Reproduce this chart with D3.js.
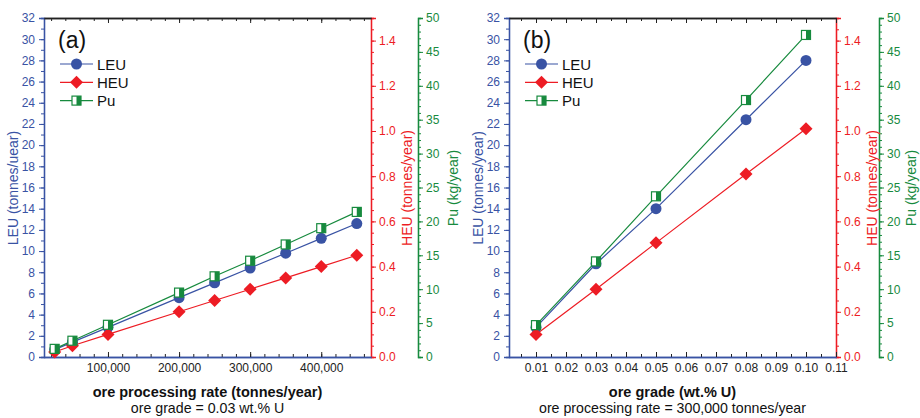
<!DOCTYPE html>
<html><head><meta charset="utf-8">
<script src="https://cdn.jsdelivr.net/npm/d3@7/dist/d3.min.js"></script>
<style>body{margin:0;background:#fff} svg{font-family:"Liberation Sans",Arial,sans-serif}</style>
</head><body><svg id="c" width="920" height="418"></svg>
<script>
// Panel (a): ore processing rate
const rateX   = [25000, 50000, 100000, 200000, 250000, 300000, 350000, 400000, 450000];
const rateLEU = [0.7, 1.4, 2.8, 5.6, 7.0, 8.4, 9.8, 11.2, 12.6];
const rateHEU = [0.022, 0.05, 0.1, 0.2, 0.25, 0.3, 0.35, 0.4, 0.45];
const ratePu  = [1.2, 2.4, 4.75, 9.5, 11.9, 14.2, 16.6, 19.0, 21.4];
const rateTicks = [100000, 200000, 300000, 400000];
// Panel (b): ore grade
const gradeX   = [0.01, 0.03, 0.05, 0.08, 0.10];
const gradeLEU = [2.8, 8.8, 14.0, 22.4, 28.0];
const gradeHEU = [0.1, 0.3, 0.505, 0.81, 1.01];
const gradePu  = [4.7, 14.1, 23.7, 37.9, 47.5];
const gradeTicks = [0.01,0.02,0.03,0.04,0.05,0.06,0.07,0.08,0.09,0.10,0.11];
const leuTicks = d3.range(0, 33, 2);
const heuTicks = [0,0.2,0.4,0.6,0.8,1.0,1.2,1.4];
const puTicks = d3.range(0, 51, 5);
const seriesNames = ["LEU", "HEU", "Pu"];

const BLUE = "#3953a4", RED = "#ed1c24", GREEN = "#178a3e";
const svg = d3.select("#c");

function panel(cfg) {
  const g = svg.append("g");
  const top = 18, bot = 357;
  const x = d3.scaleLinear().domain(cfg.xdom).range([cfg.left, cfg.right]);
  const yL = d3.scaleLinear().domain([0, 32]).range([bot, top]);
  const yH = d3.scaleLinear().domain([0, 1.5]).range([bot, top]);
  const yP = d3.scaleLinear().domain([0, 50]).range([bot, top]);

  function styleAxis(sel, color, textColor) {
    sel.selectAll("path").attr("stroke", color).attr("stroke-width", 1.3);
    sel.selectAll("line").attr("stroke", color).attr("stroke-width", 1);
    sel.selectAll("text").attr("fill", textColor || color).attr("font-size", 12);
    sel.attr("font-family", null);
  }
  // left LEU axis
  const la = g.append("g").attr("transform", `translate(${cfg.left},0)`)
    .call(d3.axisLeft(yL).tickValues(d3.range(0,33,1)).tickSize(3).tickFormat(""));
  styleAxis(la, BLUE);
  const la2 = g.append("g").attr("transform", `translate(${cfg.left},0)`)
    .call(d3.axisLeft(yL).tickValues(leuTicks).tickSize(5).tickPadding(4).tickFormat(d3.format("d")));
  styleAxis(la2, BLUE);
  // right HEU axis
  const ra = g.append("g").attr("transform", `translate(${cfg.right},0)`)
    .call(d3.axisRight(yH).tickValues(d3.range(0, 1.51, 0.05)).tickSize(3).tickFormat(""));
  styleAxis(ra, RED);
  const ra2 = g.append("g").attr("transform", `translate(${cfg.right},0)`)
    .call(d3.axisRight(yH).tickValues(heuTicks).tickSize(5).tickPadding(3).tickFormat(d3.format(".1f")));
  styleAxis(ra2, RED);
  // Pu axis
  const pa = g.append("g").attr("transform", `translate(${cfg.pu},0)`)
    .call(d3.axisRight(yP).tickValues(d3.range(0, 51, 1)).tickSize(3).tickFormat(""));
  styleAxis(pa, GREEN);
  const pa2 = g.append("g").attr("transform", `translate(${cfg.pu},0)`)
    .call(d3.axisRight(yP).tickValues(puTicks).tickSize(5).tickPadding(3).tickFormat(d3.format("d")));
  styleAxis(pa2, GREEN);
  // bottom axis (ticks inward)
  const ba = g.append("g").attr("transform", `translate(0,${bot})`)
    .call(d3.axisBottom(x).tickValues(cfg.minor).tickSizeInner(-3).tickSizeOuter(0).tickFormat(""));
  styleAxis(ba, "#222");
  const ba2 = g.append("g").attr("transform", `translate(0,${bot})`)
    .call(d3.axisBottom(x).tickValues(cfg.major).tickSizeInner(-5).tickSizeOuter(0).tickPadding(6).tickFormat(cfg.fmt));
  styleAxis(ba2, "#222", "#222");
  ba.select("path").attr("stroke", BLUE); ba2.select("path").attr("stroke", BLUE);
  // top axis (ticks inward)
  const ta = g.append("g").attr("transform", `translate(0,${top})`)
    .call(d3.axisTop(x).tickValues(cfg.minor).tickSizeInner(-3).tickSizeOuter(0).tickFormat(""));
  styleAxis(ta, "#222");
  const ta2 = g.append("g").attr("transform", `translate(0,${top})`)
    .call(d3.axisTop(x).tickValues(cfg.major).tickSizeInner(-5).tickSizeOuter(0).tickFormat(""));
  styleAxis(ta2, "#222");

  // series
  const series = [
    {name: "LEU", y: yL, v: cfg.leu, c: BLUE},
    {name: "HEU", y: yH, v: cfg.heu, c: RED},
    {name: "Pu",  y: yP, v: cfg.pu_v, c: GREEN}
  ];
  series.forEach(s => {
    const pts = cfg.xs.map((xv, i) => [x(xv), s.y(s.v[i])]);
    g.append("path").attr("d", d3.line()(pts)).attr("fill", "none")
      .attr("stroke", s.c).attr("stroke-width", 1.2);
  });
  series.forEach(s => {
    cfg.xs.forEach((xv, i) => marker(g, s.name, x(xv), s.y(s.v[i])));
  });

  // legend
  g.append("text").attr("x", cfg.left + 14).attr("y", 48).attr("font-size", 23)
    .attr("fill", "#111").text(cfg.tag);
  seriesNames.forEach((n, i) => {
    const yy = 64 + i * 18.3, x0 = cfg.left + 16;
    const c = [BLUE, RED, GREEN][i];
    g.append("line").attr("x1", x0).attr("x2", x0 + 33).attr("y1", yy).attr("y2", yy)
      .attr("stroke", c).attr("stroke-width", 1.2);
    marker(g, n, x0 + 16.5, yy);
    g.append("text").attr("x", x0 + 37).attr("y", yy + 5.5).attr("font-size", 15)
      .attr("fill", "#111").text(n);
  });

  // axis titles
  const midY = 188;
  g.append("text").attr("transform", `translate(${cfg.left - 26},${midY}) rotate(-90)`)
    .attr("text-anchor", "middle").attr("font-size", 14).attr("fill", BLUE).text(cfg.leuTitle);
  g.append("text").attr("transform", `translate(${cfg.right + 41},${midY}) rotate(-90)`)
    .attr("text-anchor", "middle").attr("font-size", 14).attr("fill", RED).text("HEU (tonnes/year)");
  g.append("text").attr("transform", `translate(${cfg.pu + cfg.puOff},${midY}) rotate(-90)`)
    .attr("text-anchor", "middle").attr("font-size", 14).attr("fill", GREEN).text("Pu (kg/year)");
  const cx = (cfg.left + cfg.right) / 2;
  g.append("text").attr("x", cx).attr("y", 397).attr("text-anchor", "middle")
    .attr("font-size", 14.5).attr("font-weight", "bold").attr("fill", "#111").text(cfg.xTitle);
  g.append("text").attr("x", cx).attr("y", 413).attr("text-anchor", "middle")
    .attr("font-size", 14.2).attr("fill", "#111").text(cfg.sub);
}

function marker(g, name, px, py) {
  if (name === "LEU") {
    g.append("circle").attr("cx", px).attr("cy", py).attr("r", 5.5).attr("fill", BLUE);
  } else if (name === "HEU") {
    const s = 6.5;
    g.append("path").attr("d", `M${px},${py - s}L${px + s},${py}L${px},${py + s}L${px - s},${py}Z`)
      .attr("fill", RED);
  } else {
    const s = 4.5;
    g.append("rect").attr("x", px - s).attr("y", py - s).attr("width", 2 * s).attr("height", 2 * s)
      .attr("fill", "#fff").attr("stroke", GREEN).attr("stroke-width", 1.2);
    g.append("rect").attr("x", px).attr("y", py - s).attr("width", s).attr("height", 2 * s)
      .attr("fill", GREEN);
  }
}

panel({
  left: 44, right: 371, pu: 418, puOff: 40, xdom: [10000, 470000],
  xs: rateX, leu: rateLEU, heu: rateHEU, pu_v: ratePu,
  major: rateTicks, minor: d3.range(20000, 470001, 20000), fmt: d3.format(","),
  tag: "(a)", leuTitle: "LEU (tonnes/uear)",
  xTitle: "ore processing rate (tonnes/year)", sub: "ore grade = 0.03 wt.% U"
});
panel({
  left: 509, right: 836, pu: 879, puOff: 37, xdom: [0.001, 0.11],
  xs: gradeX, leu: gradeLEU, heu: gradeHEU, pu_v: gradePu,
  major: gradeTicks, minor: d3.range(0.005, 0.1101, 0.005), fmt: d3.format(".2f"),
  tag: "(b)", leuTitle: "LEU (tonnes/year)",
  xTitle: "ore grade (wt.% U)", sub: "ore processing rate = 300,000 tonnes/year"
});
</script></body></html>
